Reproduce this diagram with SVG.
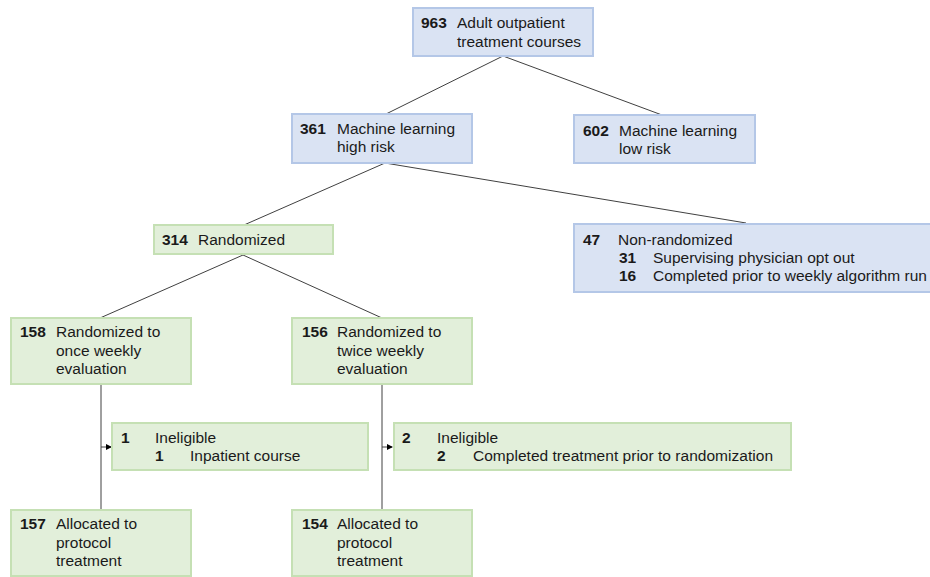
<svg xmlns="http://www.w3.org/2000/svg" width="930" height="577" viewBox="0 0 930 577">
<style>
.b{fill:#dae3f3;stroke:#b4c7e7;stroke-width:2}
.g{fill:#e2efda;stroke:#c5e0b4;stroke-width:2}
text{font-family:"Liberation Sans",Arial,sans-serif;font-size:15.5px;fill:#1a1a1a}
.n{font-weight:bold}
.c line{stroke:#404040;stroke-width:1}
</style>
<defs>
<marker id="ah" markerWidth="6" markerHeight="6" refX="5" refY="3" orient="auto" markerUnits="userSpaceOnUse">
<path d="M0,0 L6,3 L0,6 z" fill="#000"/>
</marker>
</defs>
<rect width="930" height="577" fill="#fff"/>
<g class="c" id="connectors">
<line x1="503" y1="56" x2="386" y2="114"/>
<line x1="503" y1="56" x2="662" y2="115"/>
<line x1="385" y1="163" x2="244" y2="225"/>
<line x1="385" y1="163" x2="746" y2="223"/>
<line x1="243" y1="255" x2="100" y2="318"/>
<line x1="243" y1="255" x2="382" y2="318"/>
<line x1="101" y1="385" x2="101" y2="510"/>
<line x1="382" y1="385" x2="382" y2="510"/>
<line x1="101" y1="447" x2="111" y2="447" marker-end="url(#ah)"/>
<line x1="382" y1="447" x2="392" y2="447" marker-end="url(#ah)"/>
</g>
<g id="n963">
<rect class="b" x="413" y="8" width="180" height="48"/>
<text x="421" y="28" class="n">963</text>
<text x="457" y="28">Adult outpatient</text>
<text x="457" y="47">treatment courses</text>
</g>
<g id="n361">
<rect class="b" x="292" y="114" width="180" height="49"/>
<text x="300" y="134" class="n">361</text>
<text x="337" y="134">Machine learning</text>
<text x="337" y="152">high risk</text>
</g>
<g id="n602">
<rect class="b" x="574" y="115" width="181" height="48"/>
<text x="583" y="136" class="n">602</text>
<text x="619" y="136">Machine learning</text>
<text x="619" y="154">low risk</text>
</g>
<g id="n314">
<rect class="g" x="154" y="225" width="179" height="29"/>
<text x="162" y="245" class="n">314</text>
<text x="198" y="245">Randomized</text>
</g>
<g id="n47">
<rect class="b" x="574" y="224" width="365" height="68"/>
<text x="583" y="245" class="n">47</text>
<text x="618" y="245">Non-randomized</text>
<text x="619" y="263" class="n">31</text>
<text x="653" y="263">Supervising physician opt out</text>
<text x="619" y="281" class="n">16</text>
<text x="653" y="281">Completed prior to weekly algorithm run</text>
</g>
<g id="n158">
<rect class="g" x="11" y="318" width="180" height="66"/>
<text x="20" y="337" class="n">158</text>
<text x="56" y="337">Randomized to</text>
<text x="56" y="356">once weekly</text>
<text x="56" y="374">evaluation</text>
</g>
<g id="n156">
<rect class="g" x="292" y="318" width="180" height="66"/>
<text x="302" y="337" class="n">156</text>
<text x="337" y="337">Randomized to</text>
<text x="337" y="356">twice weekly</text>
<text x="337" y="374">evaluation</text>
</g>
<g id="inel1">
<rect class="g" x="112" y="423" width="256" height="47"/>
<text x="121" y="443" class="n">1</text>
<text x="155" y="443">Ineligible</text>
<text x="155" y="461" class="n">1</text>
<text x="190" y="461">Inpatient course</text>
</g>
<g id="inel2">
<rect class="g" x="394" y="423" width="397" height="47"/>
<text x="402" y="443" class="n">2</text>
<text x="437" y="443">Ineligible</text>
<text x="437" y="461" class="n">2</text>
<text x="473" y="461" textLength="300">Completed treatment prior to randomization</text>
</g>
<g id="n157">
<rect class="g" x="11" y="510" width="180" height="66"/>
<text x="20" y="529" class="n">157</text>
<text x="56" y="529">Allocated to</text>
<text x="56" y="548">protocol</text>
<text x="56" y="566">treatment</text>
</g>
<g id="n154">
<rect class="g" x="292" y="510" width="180" height="66"/>
<text x="302" y="529" class="n">154</text>
<text x="337" y="529">Allocated to</text>
<text x="337" y="548">protocol</text>
<text x="337" y="566">treatment</text>
</g>
</svg>
